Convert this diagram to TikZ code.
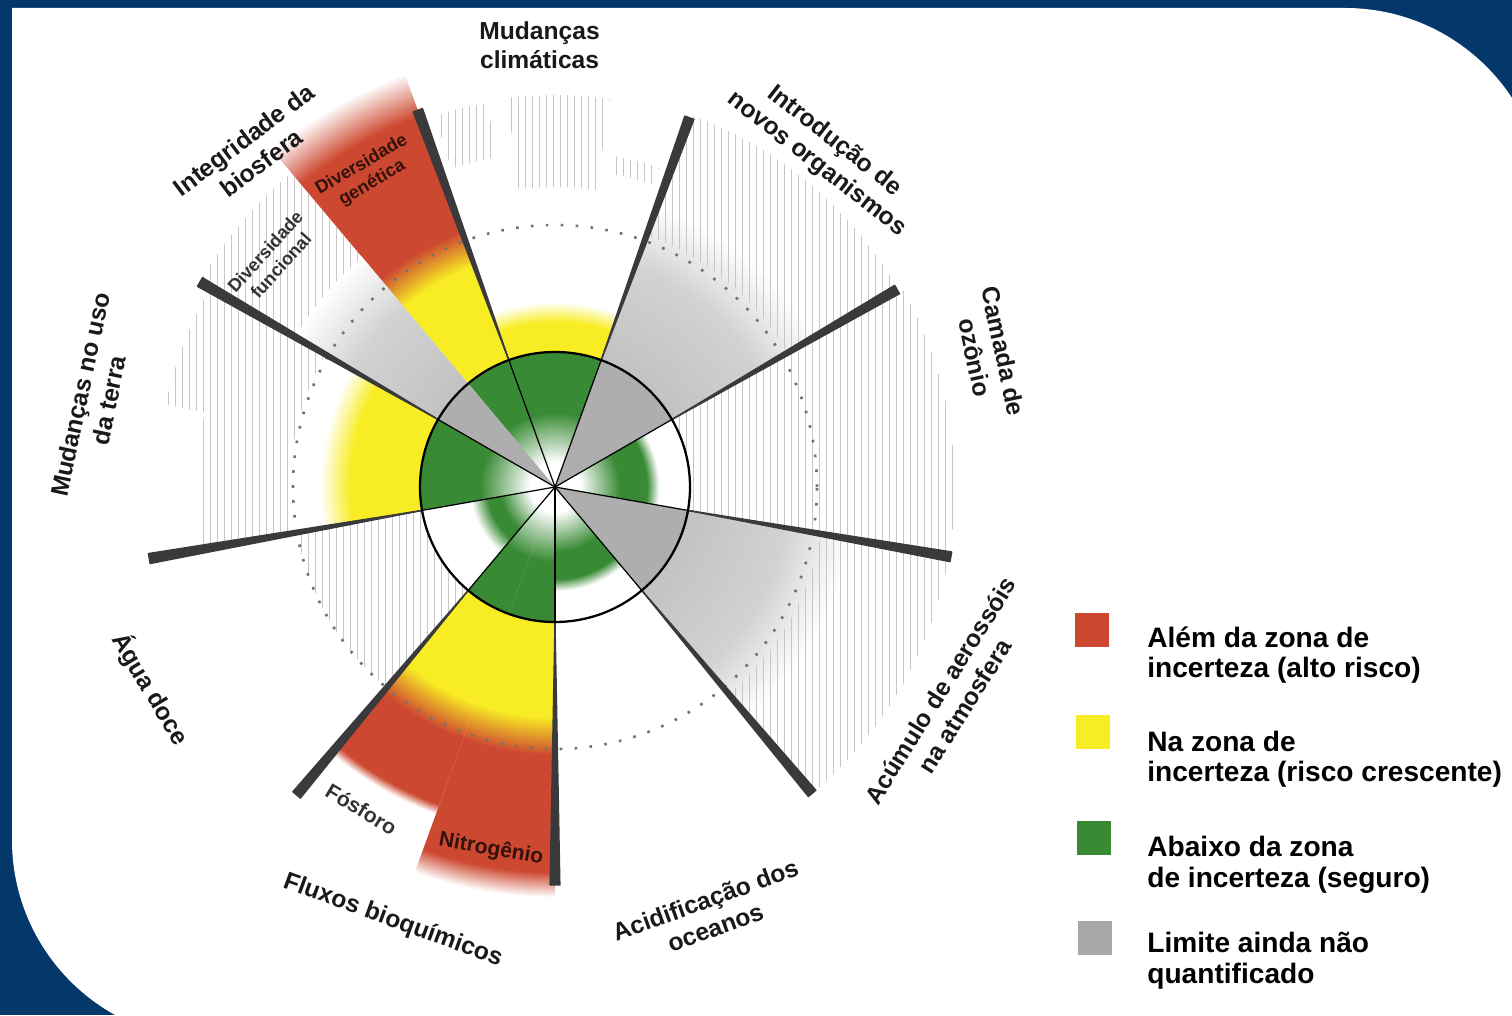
\documentclass[tikz,border=0pt]{standalone}
\usepackage{fontspec}
\setmainfont{Liberation Sans}
\usetikzlibrary{calc}

\definecolor{framebl}{RGB}{5,56,106}
\definecolor{pbred}{RGB}{205,72,48}
\definecolor{pbyellow}{RGB}{248,237,36}
\definecolor{pbgreen}{RGB}{56,138,52}
\definecolor{pbgray}{RGB}{168,168,168}
\definecolor{gin}{RGB}{174,174,174}
\definecolor{gout}{RGB}{194,194,194}
\definecolor{gfar}{RGB}{210,210,210}
\definecolor{barcol}{RGB}{58,58,60}

% radial profiles, 1bp = 18 units of radius (circle of radius 450)
\pgfdeclareradialshading{shClimate}{\pgfpoint{0bp}{0bp}}{color(0bp)=(white); color(1.39bp)=(white); color(4.17bp)=(pbgreen); color(7.5bp)=(pbgreen); color(7.51bp)=(pbyellow); color(9.17bp)=(pbyellow); color(10.28bp)=(white); color(50bp)=(white)}
\pgfdeclareradialshading{shGenetic}{\pgfpoint{0bp}{0bp}}{color(0bp)=(white); color(1.39bp)=(white); color(4.17bp)=(pbgreen); color(7.5bp)=(pbgreen); color(7.51bp)=(pbyellow); color(13.06bp)=(pbyellow); color(15.11bp)=(pbred); color(21.94bp)=(pbred); color(24.44bp)=(white); color(50bp)=(white)}
\pgfdeclareradialshading{shLand}{\pgfpoint{0bp}{0bp}}{color(0bp)=(white); color(1.39bp)=(white); color(4.17bp)=(pbgreen); color(7.5bp)=(pbgreen); color(7.51bp)=(pbyellow); color(11.39bp)=(pbyellow); color(13.06bp)=(white); color(50bp)=(white)}
\pgfdeclareradialshading{shNitro}{\pgfpoint{0bp}{0bp}}{color(0bp)=(white); color(1.39bp)=(white); color(4.17bp)=(pbgreen); color(7.5bp)=(pbgreen); color(7.51bp)=(pbyellow); color(12.78bp)=(pbyellow); color(14.89bp)=(pbred); color(21.39bp)=(pbred); color(22.78bp)=(white); color(50bp)=(white)}
\pgfdeclareradialshading{shPhos}{\pgfpoint{0bp}{0bp}}{color(0bp)=(white); color(1.39bp)=(white); color(4.17bp)=(pbgreen); color(7.5bp)=(pbgreen); color(7.51bp)=(pbyellow); color(12.78bp)=(pbyellow); color(14.89bp)=(pbred); color(18.78bp)=(pbred); color(19.33bp)=(white); color(50bp)=(white)}
\pgfdeclareradialshading{shRing}{\pgfpoint{0bp}{0bp}}{color(0bp)=(white); color(1.39bp)=(white); color(3.61bp)=(pbgreen); color(5.11bp)=(pbgreen); color(5.78bp)=(white); color(50bp)=(white)}
\pgfdeclareradialshading{shSmallRing}{\pgfpoint{0bp}{0bp}}{color(0bp)=(white); color(1.39bp)=(white); color(3.06bp)=(pbgreen); color(3.78bp)=(pbgreen); color(4.72bp)=(white); color(50bp)=(white)}
\pgfdeclareradialshading{shGray}{\pgfpoint{0bp}{0bp}}{color(0bp)=(gin); color(7.5bp)=(gin); color(7.51bp)=(gout); color(13bp)=(gfar); color(16.67bp)=(white); color(50bp)=(white)}

\newcommand{\annsec}[4]{($(C)+(#1:#3)$) -- ($(C)+(#1:#4)$) arc[start angle=#1, end angle=#2, radius=#4] -- ($(C)+(#2:#3)$) arc[start angle=#2, end angle=#1, radius=#3] -- cycle}

\begin{document}
\begin{tikzpicture}[x=0.02cm, y=0.02cm,
  lab/.style={font=\fontsize{14}{16.5}\selectfont\bfseries, align=center, text=black!90, inner sep=0pt},
  sub/.style={font=\fontsize{10.3}{12}\selectfont\bfseries, align=center, text=black!80, inner sep=0pt},
  legbox/.style={minimum size=18.8pt, inner sep=0pt},
  legtext/.style={font=\fontsize{16}{17.6}\selectfont\bfseries, align=left, anchor=base west, inner sep=0pt},
  hatch/.style={gray!45, line width=0.5pt},
  spoke/.style={black, line width=0.7pt},
  bar/.style={fill=barcol, draw=barcol, line width=0.8pt, line join=round},
  dotcirc/.style={black!55, line width=1.5pt, dash pattern=on 1.5pt off 7pt}]
 \useasboundingbox (0,0) rectangle (1512,1015);
 \fill[framebl] (0,0) rectangle (1512,1015);
 \fill[white] (12,1007) -- (1345,1007) arc[start angle=90, end angle=0, radius=200]
   -- (1545,-25) -- (212,-25) arc[start angle=270, end angle=180, radius=200] -- cycle;
 \coordinate (C) at (555,528);

 % coloured sectors
 \begin{scope} \clip \annsec{70}{110}{0.01}{190}; \shade[shading=shClimate] (C) circle[radius=450]; \end{scope}
 \begin{scope} \clip \annsec{110}{130}{0.01}{445}; \shade[shading=shGenetic] (C) circle[radius=450]; \end{scope}
 \begin{scope} \clip \annsec{130}{150}{0.01}{302}; \shade[shading=shGray] (C) circle[radius=450]; \end{scope}
 \begin{scope} \clip \annsec{150}{190}{0.01}{240}; \shade[shading=shLand] (C) circle[radius=450]; \end{scope}
 \begin{scope} \clip \annsec{190}{230}{0.01}{110}; \shade[shading=shSmallRing] (C) circle[radius=450]; \end{scope}
 \begin{scope} \clip \annsec{230}{250}{0.01}{350}; \shade[shading=shPhos] (C) circle[radius=450]; \end{scope}
 \begin{scope} \clip \annsec{250}{270}{0.01}{412}; \shade[shading=shNitro] (C) circle[radius=450]; \end{scope}
 \begin{scope} \clip \annsec{270}{310}{0.01}{110}; \shade[shading=shRing] (C) circle[radius=450]; \end{scope}
 \begin{scope} \clip \annsec{310}{350}{0.01}{302}; \shade[shading=shGray] (C) circle[radius=450]; \end{scope}
 \begin{scope} \clip \annsec{-10}{30}{0.01}{110}; \shade[shading=shRing] (C) circle[radius=450]; \end{scope}
 \begin{scope} \clip \annsec{30}{70}{0.01}{302}; \shade[shading=shGray] (C) circle[radius=450]; \end{scope}

 % hatched background
 \begin{scope}
  \clip \annsec{82}{97}{300}{392} \annsec{100}{108}{335}{390} \annsec{72}{80}{318}{336}
        \annsec{130}{150}{300}{410} \annsec{150}{168}{265}{398} \annsec{168}{190}{265}{358}
        \annsec{190}{230}{135}{262} \annsec{-10}{30}{135}{400} \annsec{30}{70}{268}{396}
        \annsec{-50}{-10}{270}{400};
  \foreach \x in {140,147,...,965} \draw[hatch] (\x,120) -- (\x,940);
 \end{scope}

 \draw[dotcirc] (C) circle[radius=262];
 \foreach \a/\len in {110/401, 70/393, 30/395, -10/402, -50/400, -90/398, -130/402, 190/412, 150/410}{
   \draw[spoke] (C) -- ($(C)+(\a:\len)$);
   \filldraw[bar] ($(C)+(\a:135)$) -- ($(C)+(\a+0.7:\len)$) -- ($(C)+(\a-0.7:\len)$) -- cycle;
 }
 \draw[black, line width=1.3pt] (C) circle[radius=135];

 \node[lab] (lClim) at ($(C)+(92:442)$) {Mudanças\\climáticas};
 \node[lab, rotate=37] (lBio) at ($(C)+(132:452)$) {Integridade da\\biosfera};
 \node[lab, rotate=-38] (lNovel) at ($(C)+(51:430)$) {Introdução de\\novos organismos};
 \node[lab, rotate=-78] (lOzone) at ($(C)+(17:454)$) {Camada de\\ozônio};
 \node[lab, rotate=58] (lAero) at ($(C)+(-28:450)$) {Acúmulo de aerossóis\\na atmosfera};
 \node[lab, rotate=20] (lOcean) at ($(C)+(-70:454)$) {Acidificação dos\\oceanos};
 \node[lab, rotate=-20] (lBgc) at ($(C)+(-110.5:463)$) {Fluxos bioquímicos};
 \node[lab, rotate=-59] (lWater) at ($(C)+(206.5:452)$) {Água doce};
 \node[lab, rotate=78] (lLand) at ($(C)+(169:469)$) {Mudanças no uso\\da terra};

 \node[sub, text=black!75!pbred, rotate=30] (lGen) at ($(C)+(121:365)$) {Diversidade\\genética};
 \node[sub, rotate=48] (lFun) at ($(C)+(141:363)$) {Diversidade\\funcional};
 \node[sub, font=\fontsize{12}{13}\selectfont\bfseries, rotate=-31] (lPho) at ($(C)+(-121:376)$) {Fósforo};
 \node[sub, text=black!75!pbred, font=\fontsize{12}{13}\selectfont\bfseries, rotate=-10] (lNit) at ($(C)+(-100:368)$) {Nitrogênio};

 \node[legbox, fill=pbred] (kRed) at (1092,385) {};
 \node[legtext] (tRed) at (1147,337) {Além da zona de\\incerteza (alto risco)};
 \node[legbox, fill=pbyellow] (kYel) at (1093,283) {};
 \node[legtext] (tYel) at (1147,233) {Na zona de\\incerteza (risco crescente)};
 \node[legbox, fill=pbgreen] (kGrn) at (1094,177) {};
 \node[legtext] (tGrn) at (1147,128) {Abaixo da zona\\de incerteza (seguro)};
 \node[legbox, fill=pbgray] (kGry) at (1095,77) {};
 \node[legtext] (tGry) at (1147,32) {Limite ainda não\\quantificado};
\end{tikzpicture}
\end{document}
